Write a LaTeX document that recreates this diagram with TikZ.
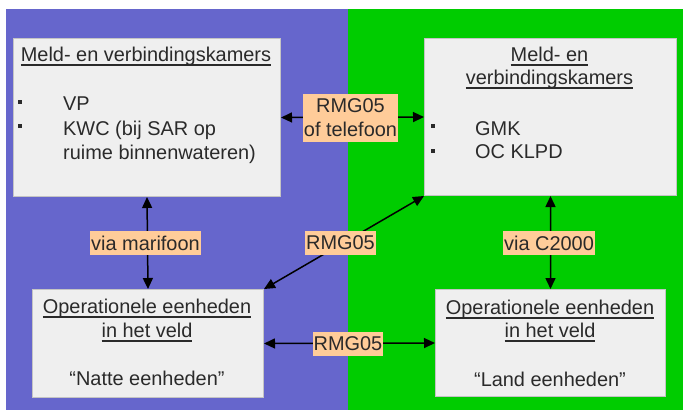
\documentclass[tikz,border=0pt]{standalone}
\usepackage{fontspec}
\setmainfont{Liberation Sans}
\usetikzlibrary{arrows.meta}
\definecolor{bgblue}{HTML}{6666CC}
\definecolor{bggreen}{HTML}{00CC00}
\definecolor{boxfill}{HTML}{EFEFEF}
\definecolor{boxline}{HTML}{C4C4C4}
\definecolor{lblfill}{HTML}{FFCC99}
\definecolor{textc}{HTML}{2A2A2A}
\newcommand{\fs}{\fontsize{20}{24}\selectfont}
\newcommand{\ulin}[1]{\setbox0\hbox{#1}\rlap{\rule[-4.5bp]{\wd0}{1.4bp}}\box0}
\tikzset{
  box/.style={draw=boxline, line width=1bp, fill=boxfill, anchor=north west, inner sep=0},
  txt/.style={text=textc, inner sep=0, font=\fs},
  lbl/.style={fill=lblfill, text=textc, font=\fs, inner xsep=1bp, inner ysep=0, minimum height=24bp},
  arr/.style={line width=1.5bp, black, {Triangle[length=11bp,width=10bp]}-{Triangle[length=11bp,width=10bp]}},
  bul/.style={fill=textc}
}
\begin{document}
\begin{tikzpicture}[x=1bp,y=-1bp]
\useasboundingbox (0,0) rectangle (684,410);
\fill[white] (0,0) rectangle (684,410);
\fill[bgblue] (6,9) rectangle (348,410);
\fill[bggreen] (348,9) rectangle (683,410);

% boxes
\node[box, minimum width=267bp, minimum height=158bp] (tl) at (13,38) {};
\node[box, minimum width=252bp, minimum height=157bp] (tr) at (424,38) {};
\node[box, minimum width=231bp, minimum height=108bp] (bl) at (32,289) {};
\node[box, minimum width=230bp, minimum height=107bp] (br) at (435,289) {};

% top-left contents
\node[txt, anchor=base] (tlt) at (146,61) {\ulin{Meld- en verbindingskamers}};
\fill[bul] (18,100) rectangle (22,104);
\fill[bul] (18,124) rectangle (22,128);
\node[txt, anchor=base west] (tl1) at (63,110) {VP};
\node[txt, anchor=base west] (tl2) at (63,135) {KWC (bij SAR op};
\node[txt, anchor=base west] (tl3) at (63,159) {ruime binnenwateren)};

% top-right contents
\node[txt, anchor=base] (trt1) at (549.5,61) {\ulin{Meld- en}};
\node[txt, anchor=base] (trt2) at (549.5,84) {\ulin{verbindingskamers}};
\fill[bul] (431,124) rectangle (435,128);
\fill[bul] (431,149) rectangle (435,153);
\node[txt, anchor=base west] (tr1) at (475,135) {GMK};
\node[txt, anchor=base west] (tr2) at (475,158) {OC KLPD};

% bottom-left contents
\node[txt, anchor=base] (blt1) at (147,313) {\ulin{Operationele eenheden}};
\node[txt, anchor=base] (blt2) at (147,337) {\ulin{in het veld}};
\node[txt, anchor=base] (bl1) at (147,385) {\char"201C Natte eenheden\char"201D};

% bottom-right contents
\node[txt, anchor=base] (brt1) at (550,314) {\ulin{Operationele eenheden}};
\node[txt, anchor=base] (brt2) at (550,337) {\ulin{in het veld}};
\node[txt, anchor=base] (br1) at (550,386) {\char"201C Land eenheden\char"201D};

% connectors
\draw[arr] (tl.east) -- (tr.west);
\draw[arr] (tl.south) -- (bl.north);
\draw[arr] (tr.south) -- (br.north);
\draw[arr] (bl.north east) -- (tr.south west);
\draw[arr] (bl.east) -- (br.west);

% labels
\node[lbl, align=center, minimum height=48bp] (l1) at (350.5,117.5) {RMG05\\of telefoon};
\node[lbl] (l2) at (145.5,243) {via marifoon};
\node[lbl] (l3) at (340.5,243) {RMG05};
\node[lbl] (l4) at (549,243) {via C2000};
\node[lbl] (l5) at (348,343.5) {RMG05};
\end{tikzpicture}
\end{document}
